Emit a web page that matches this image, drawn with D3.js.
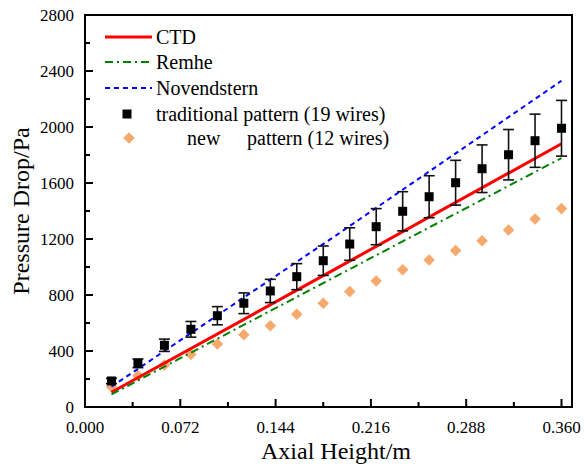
<!DOCTYPE html>
<html>
<head>
<meta charset="utf-8">
<script src="https://cdn.jsdelivr.net/npm/d3@7"></script>
<style>
  body { margin: 0; background: #fff; }
  text { font-family: 'Liberation Serif', 'Times New Roman', serif; }
</style>
</head>
<body>
<div class="chart"></div>
<script>
// data
const heights = [0.02, 0.04, 0.06, 0.08, 0.10, 0.12, 0.14, 0.16, 0.18, 0.20, 0.22, 0.24, 0.26, 0.28, 0.30, 0.32, 0.34, 0.36];
const traditional = [186, 312, 441, 555, 652, 741, 829, 931, 1045, 1164, 1288, 1398, 1502, 1602, 1702, 1802, 1902, 1991];
const tradError = [19, 31, 44, 56, 65, 74, 83, 93, 105, 116, 129, 140, 150, 160, 170, 180, 190, 199];
const newPattern = [145, 224, 300, 376, 450, 516, 581, 662, 741, 825, 900, 980, 1050, 1117, 1188, 1264, 1343, 1417];

const modelX = [0.02, 0.19, 0.36];
const ctd = [105, 990, 1880];
const remhe = [90, 935, 1778];
const novendstern = [145, 1228, 2330];

const xTicks = [0, 0.072, 0.144, 0.216, 0.288, 0.36];
const yTicks = [0, 400, 800, 1200, 1600, 2000, 2400, 2800];

const width = 584, height = 467;
const padL = 85, padR = 572, padT = 15, padB = 407;

const svg = d3.select('.chart')
  .append('svg')
  .attr('width', width)
  .attr('height', height);

const x = d3.scaleLinear().domain([0, 0.36]).range([padL, 561.5]);
const y = d3.scaleLinear().domain([0, 2800]).range([padB, padT]);

// ticks (inward, on left and bottom)
const xMinor = d3.range(0, 0.36 + 1e-9, 0.036);
svg.selectAll('.xtick')
  .data(xMinor)
  .enter().append('line')
  .attr('x1', d => x(d)).attr('x2', d => x(d))
  .attr('y1', padB)
  .attr('y2', (d, i) => i % 2 === 0 ? padB - 8 : padB - 5)
  .attr('stroke', '#000').attr('stroke-width', 2);

const yMinor = d3.range(0, 2801, 200);
svg.selectAll('.ytick')
  .data(yMinor)
  .enter().append('line')
  .attr('y1', d => y(d)).attr('y2', d => y(d))
  .attr('x1', padL)
  .attr('x2', (d, i) => i % 2 === 0 ? padL + 8 : padL + 5)
  .attr('stroke', '#000').attr('stroke-width', 2);

svg.selectAll('.xlab')
  .data(xTicks)
  .enter().append('text')
  .attr('x', d => x(d))
  .attr('y', 433)
  .attr('text-anchor', 'middle')
  .attr('font-size', '17px')
  .text(d => d.toFixed(3));

svg.selectAll('.ylab')
  .data(yTicks)
  .enter().append('text')
  .attr('x', 74)
  .attr('y', d => y(d) + 6)
  .attr('text-anchor', 'end')
  .attr('font-size', '17px')
  .text(d => d);

svg.append('text')
  .attr('x', 336).attr('y', 459)
  .attr('text-anchor', 'middle')
  .attr('font-size', '24px')
  .text('Axial Height/m');

svg.append('text')
  .attr('transform', 'translate(29,211) rotate(-90)')
  .attr('text-anchor', 'middle')
  .attr('font-size', '24px')
  .text('Pressure Drop/Pa');

// model lines
const line = d3.line().x(d => x(d[0])).y(d => y(d[1]));
const models = [
  { name: 'CTD', vals: ctd, color: '#ff0000', width: 3, dash: null },
  { name: 'Remhe', vals: remhe, color: '#008000', width: 2, dash: '8,4,2,4' },
  { name: 'Novendstern', vals: novendstern, color: '#0000ff', width: 2, dash: '5,4' }
];

// new pattern diamonds
svg.selectAll('.dia')
  .data(heights.map((h, i) => [h, newPattern[i]]))
  .enter().append('path')
  .attr('d', d3.symbol().type(d3.symbolDiamond2).size(85))
  .attr('transform', d => `translate(${x(d[0])},${y(d[1])})`)
  .attr('fill', '#f6a96c');

svg.selectAll('.model')
  .data(models)
  .enter().append('path')
  .attr('d', m => line(modelX.map((h, i) => [h, m.vals[i]])))
  .attr('fill', 'none')
  .attr('stroke', m => m.color)
  .attr('stroke-width', m => m.width)
  .attr('stroke-dasharray', m => m.dash);

// traditional with error bars
const trad = heights.map((h, i) => ({ h, v: traditional[i], e: tradError[i] }));
const eb = svg.selectAll('.err').data(trad).enter().append('g');
eb.append('line')
  .attr('x1', d => x(d.h)).attr('x2', d => x(d.h))
  .attr('y1', d => y(d.v - d.e)).attr('y2', d => y(d.v + d.e))
  .attr('stroke', '#111').attr('stroke-width', 1.6);
eb.append('line')
  .attr('x1', d => x(d.h) - 5.5).attr('x2', d => x(d.h) + 5.5)
  .attr('y1', d => y(d.v - d.e)).attr('y2', d => y(d.v - d.e))
  .attr('stroke', '#111').attr('stroke-width', 1.6);
eb.append('line')
  .attr('x1', d => x(d.h) - 5.5).attr('x2', d => x(d.h) + 5.5)
  .attr('y1', d => y(d.v + d.e)).attr('y2', d => y(d.v + d.e))
  .attr('stroke', '#111').attr('stroke-width', 1.6);
eb.append('rect')
  .attr('x', d => x(d.h) - 4.5).attr('y', d => y(d.v) - 4.5)
  .attr('width', 9).attr('height', 9)
  .attr('fill', '#000');

// frame
svg.append('rect')
  .attr('x', padL).attr('y', padT)
  .attr('width', padR - padL).attr('height', padB - padT)
  .attr('fill', 'none')
  .attr('stroke', '#000').attr('stroke-width', 2);

// legend
const legY = [37, 62, 88, 114, 138];
models.forEach((m, i) => {
  svg.append('line')
    .attr('x1', 105).attr('x2', 152)
    .attr('y1', legY[i]).attr('y2', legY[i])
    .attr('stroke', m.color)
    .attr('stroke-width', m.width)
    .attr('stroke-dasharray', m.dash);
  svg.append('text')
    .attr('x', 156).attr('y', legY[i] + 6.5)
    .attr('font-size', '20px')
    .text(m.name);
});
svg.append('rect')
  .attr('x', 127 - 4.5).attr('y', legY[3] - 4.5)
  .attr('width', 9).attr('height', 9)
  .attr('fill', '#000');
svg.append('text')
  .attr('x', 156).attr('y', legY[3] + 6.5)
  .attr('font-size', '20px')
  .text('traditional pattern (19 wires)');
svg.append('path')
  .attr('d', d3.symbol().type(d3.symbolDiamond2).size(85))
  .attr('transform', `translate(129,${legY[4]})`)
  .attr('fill', '#f6a96c');
svg.append('text')
  .attr('x', 187).attr('y', legY[4] + 6.5)
  .attr('font-size', '20px')
  .text('new');
svg.append('text')
  .attr('x', 247).attr('y', legY[4] + 6.5)
  .attr('font-size', '20px')
  .text('pattern (12 wires)');
</script>
</body>
</html>
